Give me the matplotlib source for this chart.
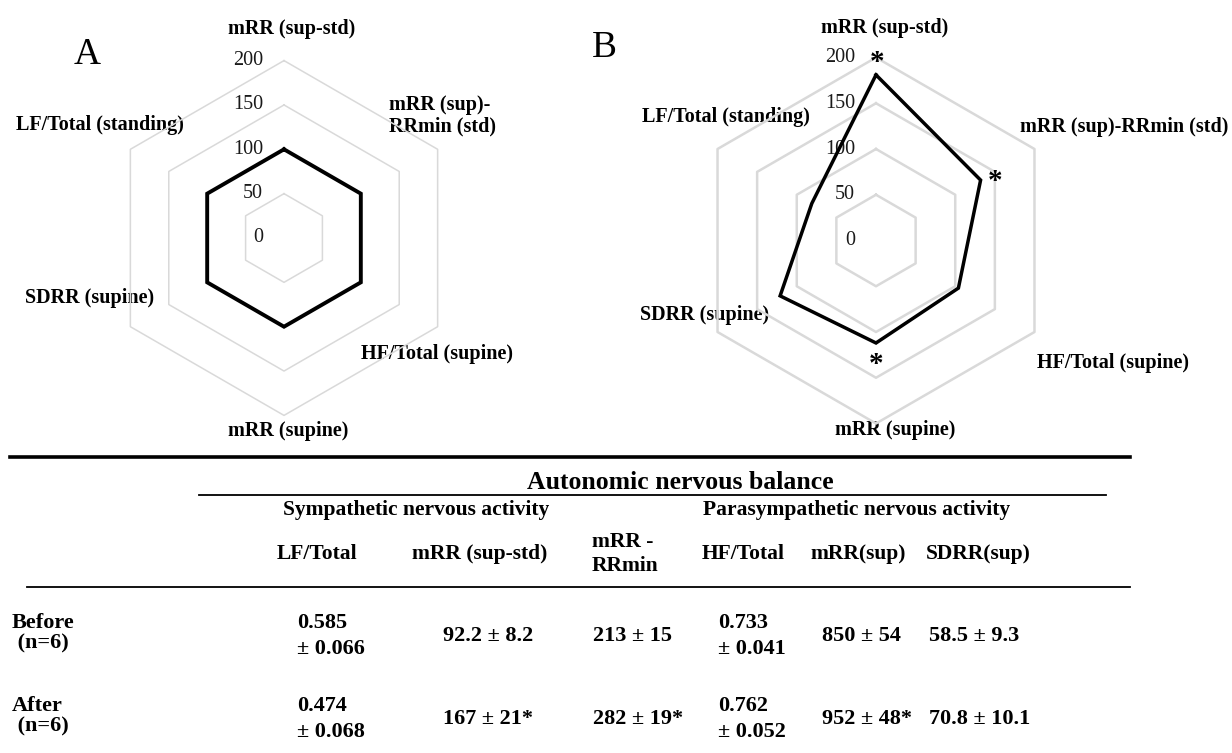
import numpy as np
import matplotlib
matplotlib.use('Agg')
import matplotlib.pyplot as plt

# radar data: after/before in %, baseline = 100
axis_labels = ['mRR (sup-std)', 'mRR (sup)-RRmin (std)', 'HF/Total (supine)',
               'mRR (supine)', 'SDRR (supine)', 'LF/Total (standing)']
before_pct = [100, 100, 100, 100, 100, 100]
after_pct = [181, 132, 104, 112, 121, 81]
after_sig = [True, True, False, True, False, False]
ring_levels = [50, 100, 150, 200]
tick_levels = [0, 50, 100, 150, 200]

# table data
group_title = 'Autonomic nervous balance'
sub_groups = ['Sympathetic nervous activity', 'Parasympathetic nervous activity']
col_heads = ['LF/Total', 'mRR (sup-std)', 'mRR -\nRRmin', 'HF/Total', 'mRR(sup)', 'SDRR(sup)']
row_labels = ['Before\n (n=6)', 'After\n (n=6)']
before_cells = ['0.585\n± 0.066', '92.2 ± 8.2', '213 ± 15', '0.733\n± 0.041', '850 ± 54', '58.5 ± 9.3']
after_cells = ['0.474\n± 0.068', '167 ± 21*', '282 ± 19*', '0.762\n± 0.052', '952 ± 48*', '70.8 ± 10.1']

W, H = 1232, 753
plt.rcParams['font.family'] = 'Liberation Serif'

fig = plt.figure(figsize=(W / 100, H / 100), dpi=100)

# overlay axes in pixel coords for text and table rules
ov = fig.add_axes([0, 0, 1, 1])
ov.set_xlim(0, W)
ov.set_ylim(H, 0)
ov.axis('off')


def radar(cx, cy, scale, values, ring_lw, line_lw, sig=None):
    half = 235
    ax = fig.add_axes([(cx - half) / W, 1 - (cy + half) / H, 2 * half / W, 2 * half / H])
    lim = half / scale
    ax.set_xlim(-lim, lim)
    ax.set_ylim(-lim, lim)
    ax.axis('off')
    ang = np.pi / 2 - np.arange(7) * np.pi / 3
    for r in ring_levels:
        ax.plot(r * np.cos(ang), r * np.sin(ang), color='#d9d9d9', lw=ring_lw, zorder=1)
    for t in tick_levels:
        ax.text(-21 / scale, t, str(t), ha='right', va='center', fontsize=14.5,
                color='#1a1a1a', zorder=2)
    v = np.append(values, values[0])
    ax.plot(v * np.cos(ang), v * np.sin(ang), color='black', lw=line_lw, zorder=3,
            solid_joinstyle='miter')
    if sig is not None:
        # offset (pixels) of the star from its vertex
        offs = [(1, 18), (15, 5), (0, 0), (0, -16), (0, 0), (0, 0)]
        for i, s in enumerate(sig):
            if s:
                ax.annotate('*', xy=(values[i] * np.cos(ang[i]), values[i] * np.sin(ang[i])),
                            xytext=(offs[i][0], offs[i][1] - 6), textcoords='offset pixels',
                            ha='center', va='center', fontsize=21, fontweight='bold', zorder=4)
    return ax


radar(284, 238, 0.887, before_pct, 1.1, 2.8)
radar(876, 240.5, 0.915, after_pct, 1.8, 2.5, after_sig)

# panel letters
ov.text(87, 55, 'A', fontsize=27, ha='center', va='center')
ov.text(604, 48, 'B', fontsize=27, ha='center', va='center')

# radar axis labels (pixel positions)
lab_a = [(292, 29, 'center'), (389, 116, 'left'), (437, 354, 'center'),
         (288, 431, 'center'), (90, 298, 'center'), (100, 125, 'center')]
lab_b = [(885, 28, 'center'), (1124, 127, 'center'), (1113, 363, 'center'),
         (895, 430, 'center'), (705, 315, 'center'), (726, 117, 'center')]
for i, (x, y, ha) in enumerate(lab_a):
    txt = axis_labels[i]
    if i == 1:
        txt = 'mRR (sup)-\nRRmin (std)'
    ov.text(x, y, txt, ha=ha, va='center', fontsize=14.5, fontweight='bold', linespacing=1.1)
for i, (x, y, ha) in enumerate(lab_b):
    ov.text(x, y, axis_labels[i], ha=ha, va='center', fontsize=14.5, fontweight='bold')

# table rules
ov.plot([10, 1130], [457, 457], color='black', lw=2.6)
ov.plot([199, 1106], [495, 495], color='black', lw=1.3)
ov.plot([27, 1130], [587, 587], color='black', lw=1.3)

ov.text(680, 482, group_title, ha='center', va='center', fontsize=18.5, fontweight='bold')
ov.text(283, 510, sub_groups[0], ha='left', va='center', fontsize=15.5, fontweight='bold')
ov.text(703, 510, sub_groups[1], ha='left', va='center', fontsize=15.5, fontweight='bold')

head_x = [317, 480, 592, 743, 858, 978]
head_ha = ['center', 'center', 'left', 'center', 'center', 'center']
for x, ha, txt in zip(head_x, head_ha, col_heads):
    ov.text(x, 554, txt, ha=ha, va='center', fontsize=15.5, fontweight='bold', linespacing=1.3)

cell_x = [297, 443, 593, 718, 822, 929]
row_y = [636, 719]
for y, lab, cells in zip(row_y, row_labels, [before_cells, after_cells]):
    ov.text(12, y - 3, lab, ha='left', va='center', fontsize=16, fontweight='bold',
            linespacing=1.0)
    for x, txt in zip(cell_x, cells):
        ov.text(x, y, txt, ha='left', va='center', fontsize=16, fontweight='bold',
                linespacing=1.4)

fig.savefig('out.png', dpi=100)
